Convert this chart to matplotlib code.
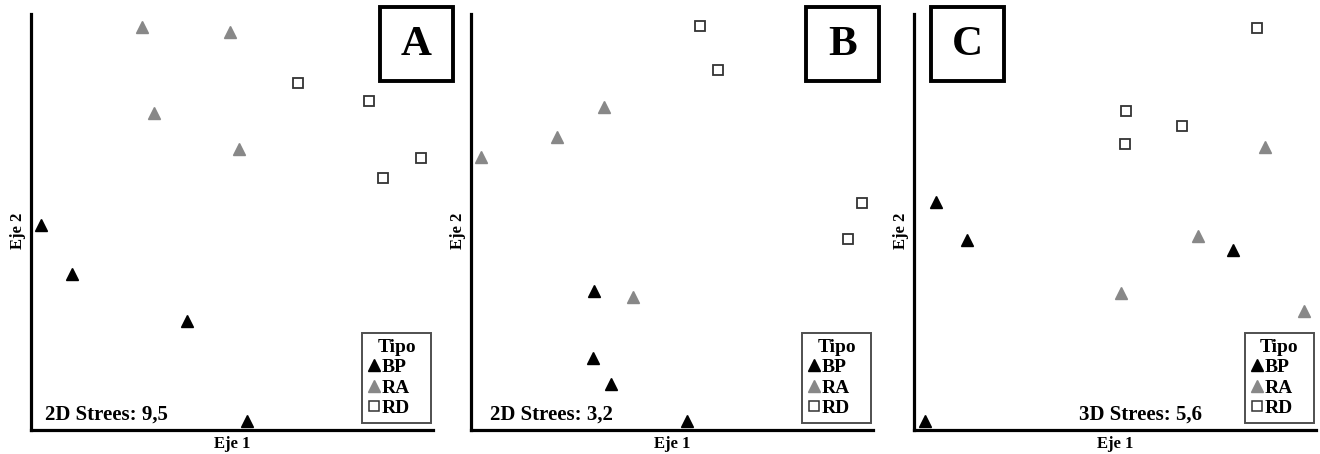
import matplotlib
matplotlib.use("Agg")
import matplotlib.pyplot as plt
from matplotlib.lines import Line2D
from matplotlib.patches import Rectangle

plt.rcParams['font.family'] = ['Liberation Serif', 'DejaVu Serif']
plt.rcParams['font.weight'] = 'bold'

# NMDS scores (arbitrary axis units)
a_bp_x = [10, 41, 156, 216]
a_bp_y = [205, 156, 109, 9]
a_ra_x = [111, 199, 123, 208]
a_ra_y = [403, 398, 317, 281]
a_rd_x = [267, 338, 390, 352]
a_rd_y = [347, 329, 272, 252]

b_bp_x = [123, 122, 140, 216]
b_bp_y = [139, 72, 46, 9]
b_ra_x = [10, 86, 133, 162]
b_ra_y = [273, 293, 323, 133]
b_rd_x = [229, 247, 391, 377]
b_rd_y = [404, 360, 227, 191]

c_bp_x = [22, 53, 319, 11]
c_bp_y = [228, 190, 180, 9]
c_ra_x = [351, 284, 207, 390]
c_ra_y = [283, 194, 137, 119]
c_rd_x = [343, 212, 268, 211]
c_rd_y = [402, 319, 304, 286]

letters = ['A', 'B', 'C']
stress = ['2D Strees: 9,5', '2D Strees: 3,2', '3D Strees: 5,6']

W, H = 1320, 454
fig = plt.figure(figsize=(W / 100, H / 100), dpi=100)

panels = [
    (31, (a_bp_x, a_bp_y), (a_ra_x, a_ra_y), (a_rd_x, a_rd_y)),
    (471, (b_bp_x, b_bp_y), (b_ra_x, b_ra_y), (b_rd_x, b_rd_y)),
    (914, (c_bp_x, c_bp_y), (c_ra_x, c_ra_y), (c_rd_x, c_rd_y)),
]
# letter box left edges (px) and stress text x position (axes px)
box_left = [380, 806, 931]
stress_x = [14, 19, 165]

for i, (x0, bp, ra, rd) in enumerate(panels):
    ax = fig.add_axes([x0 / W, 24 / H, 402 / W, 416 / H])
    ax.set_xlim(0, 402)
    ax.set_ylim(0, 416)
    for s in ['top', 'right']:
        ax.spines[s].set_visible(False)
    for s in ['left', 'bottom']:
        ax.spines[s].set_linewidth(2.3)
    ax.set_xticks([])
    ax.set_yticks([])

    ax.plot(bp[0], bp[1], '^', color='black', ms=9, ls='none', clip_on=False)
    ax.plot(ra[0], ra[1], '^', color='#888888', ms=9, ls='none', clip_on=False)
    ax.plot(rd[0], rd[1], 's', mfc='white', mec='#333333', mew=1.3, ms=7.5,
            ls='none', clip_on=False)

    ax.set_xlabel('Eje 1', fontsize=12, fontweight='bold', labelpad=4)
    ax.set_ylabel('Eje 2', fontsize=12, fontweight='bold')
    ax.yaxis.set_label_coords(-5 / 402, 0.48)

    ax.text(stress_x[i], 10, stress[i], fontsize=15, fontweight='bold',
            ha='left', va='baseline')

    handles = [
        Line2D([], [], marker='^', color='black', ls='none', ms=9),
        Line2D([], [], marker='^', color='#888888', ls='none', ms=9),
        Line2D([], [], marker='s', mfc='white', mec='#333333', mew=1.1, ls='none', ms=7.5),
    ]
    leg = ax.legend(handles, ['BP', 'RA', 'RD'], title='Tipo', loc='lower left',
                    bbox_to_anchor=(331 / 402, 7 / 416, 69 / 402, 0),
                    mode='expand', borderaxespad=0,
                    prop={'size': 14, 'weight': 'bold'},
                    title_fontproperties={'size': 14, 'weight': 'bold'},
                    frameon=True, fancybox=False, handlelength=0.6,
                    handletextpad=0.1, labelspacing=0.15, borderpad=0.3)
    leg.get_frame().set_edgecolor('#222222')
    leg.get_frame().set_linewidth(1.4)

    bx = box_left[i]
    fig.add_artist(Rectangle((bx / W, 1 - 81 / H), 73 / W, 74 / H,
                             transform=fig.transFigure, fill=False,
                             ec='black', lw=2.8))
    fig.text((bx + 36.5) / W, 1 - 45 / H, letters[i], fontsize=31,
             fontweight='bold', ha='center', va='center')

fig.savefig('out.png', dpi=100)
